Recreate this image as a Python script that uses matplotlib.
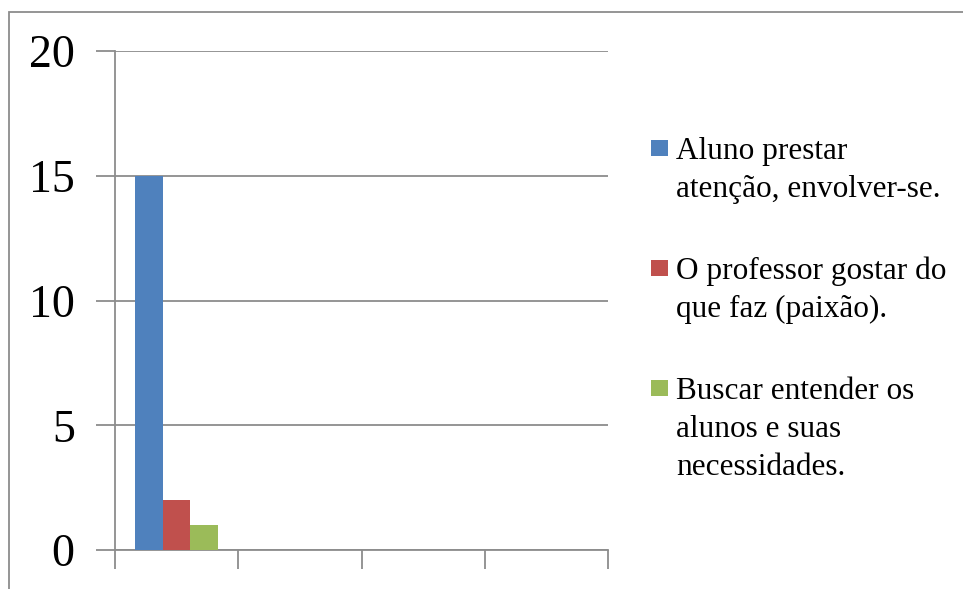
import matplotlib
matplotlib.use("Agg")
import matplotlib.pyplot as plt
from matplotlib.patches import Rectangle
import numpy as np

# Data
categories = ["", "", "", ""]
series_names = [
    "Aluno prestar\natenção, envolver-se.",
    "O professor gostar do\nque faz (paixão).",
    "Buscar entender os\nalunos e suas\nnecessidades.",
]
series_values = [
    [15, 0, 0, 0],
    [2, 0, 0, 0],
    [1, 0, 0, 0],
]
colors = ["#4F81BD", "#C0504D", "#9BBB59"]
y_ticks = [0, 5, 10, 15, 20]

W, H = 963, 589
fig = plt.figure(figsize=(W / 100, H / 100), dpi=100)
plt.rcParams["font.family"] = ["Liberation Serif", "DejaVu Serif"]

grey = "#8C8C8C"

# Outer chart frame (continues past the right and bottom edges)
fig.patches.append(Rectangle((9 / W, -0.2), 1.2, 1.2 - 12 / H,
                             transform=fig.transFigure, fill=False,
                             edgecolor=grey, linewidth=1.3, clip_on=False))

left, right = 115 / W, 608 / W
bottom, top = 1 - 550 / H, 1 - 51 / H
ax = fig.add_axes([left, bottom, right - left, top - bottom])

x = np.arange(len(categories))
bw = 0.224
offsets = [-bw, 0, bw]
for vals, off, c in zip(series_values, offsets, colors):
    ax.bar(x + off, vals, width=bw, color=c, zorder=3)

ax.set_xlim(-0.5, len(categories) - 0.5)
ax.set_ylim(0, 20)
ax.set_yticks(y_ticks)
ax.set_yticklabels([str(t) for t in y_ticks], fontsize=33)
ax.set_xticks(np.arange(len(categories) + 1) - 0.5)
ax.set_xticklabels([""] * (len(categories) + 1))

ax.yaxis.grid(True, color=grey, linewidth=1.3, zorder=0)
for s in ["top", "right"]:
    ax.spines[s].set_visible(False)
for s in ["left", "bottom"]:
    ax.spines[s].set_color(grey)
    ax.spines[s].set_linewidth(1.3)
ax.tick_params(axis="y", length=14, width=1.3, color=grey, pad=15, direction="out")
ax.tick_params(axis="x", length=14, width=1.3, color=grey, direction="out")

# Legend drawn entry by entry on the right
text_x = 676 / W
sq_x0, sq_w, sq_h = 651 / W, 17, 16
first_baselines = [159, 279, 399]
line_step = 38
for name, c, b in zip(series_names, colors, first_baselines):
    fig.patches.append(Rectangle((sq_x0, 1 - (b - 3) / H), sq_w / W, sq_h / H,
                                 transform=fig.transFigure, facecolor=c,
                                 edgecolor="none"))
    for i, line in enumerate(name.split("\n")):
        fig.text(text_x, 1 - (b + i * line_step) / H, line, fontsize=22.5,
                 ha="left", va="baseline", color="black")

fig.savefig("out.png", dpi=100)
